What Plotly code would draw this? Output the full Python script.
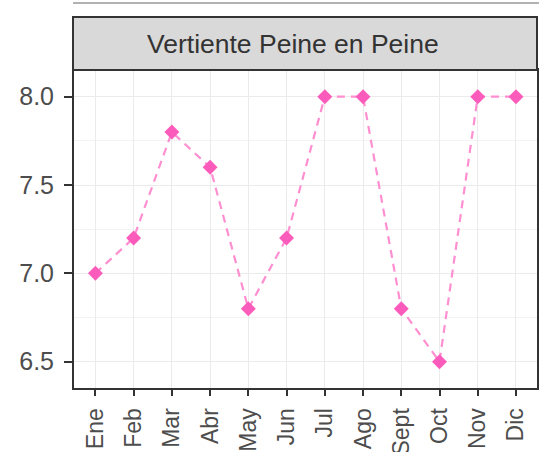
import plotly.graph_objects as go

months = ["Ene", "Feb", "Mar", "Abr", "May", "Jun", "Jul", "Ago", "Sept", "Oct", "Nov", "Dic"]
values = [7.0, 7.2, 7.8, 7.6, 6.8, 7.2, 8.0, 8.0, 6.8, 6.5, 8.0, 8.0]
y_ticks = [6.5, 7.0, 7.5, 8.0]
y_tick_labels = ["6.5", "7.0", "7.5", "8.0"]
facet_title = "Vertiente Peine en Peine"

W, H = 539, 452
L, R, T, B = 74, 2, 70, 64
ph = H - T - B
pw = W - L - R

def py(px):
    return (H - B - px) / ph

def pxr(px):
    return (px - L) / pw

FONT = "Liberation Sans, Arial, sans-serif"

fig = go.Figure()
fig.add_trace(go.Scatter(
    x=list(range(len(months))), y=values, mode="lines",
    line=dict(color="#ff8fd0", width=2.2, dash="8px,6px"),
    hoverinfo="skip", showlegend=False,
))
fig.add_trace(go.Scatter(
    x=list(range(len(months))), y=values, mode="markers",
    marker=dict(symbol="diamond", size=11.5, color="#fb5cbc", line=dict(width=0)),
    showlegend=False,
))

fig.update_layout(
    width=W, height=H,
    margin=dict(l=L, r=R, t=T, b=B, autoexpand=False),
    paper_bgcolor="white", plot_bgcolor="white",
    font=dict(family=FONT),
    xaxis=dict(
        range=[-0.56, 11.55], automargin=False,
        tickmode="array", tickvals=list(range(len(months))), ticktext=months,
        tickangle=-90, tickfont=dict(size=23, color="#4d4d4d"),
        ticks="outside", ticklen=6, tickwidth=1.5, tickcolor="#333333",
        ticklabelstandoff=3,
        showgrid=True, gridcolor="#ebebeb", gridwidth=1.2,
        showline=True, linecolor="#333333", linewidth=2, mirror=True,
        zeroline=False, fixedrange=True,
    ),
    yaxis=dict(
        range=[6.351, 8.151], automargin=False,
        tickmode="array", tickvals=y_ticks, ticktext=y_tick_labels,
        tickfont=dict(size=25, color="#4d4d4d"),
        ticks="outside", ticklen=8, tickwidth=1.5, tickcolor="#333333",
        ticklabelstandoff=5,
        showgrid=True, gridcolor="#ebebeb", gridwidth=1.2,
        minor=dict(dtick=0.25, tick0=6.25, showgrid=True, gridcolor="#f3f3f3", gridwidth=0.8, ticks=""),
        showline=True, linecolor="#333333", linewidth=2, mirror=True,
        zeroline=False, fixedrange=True,
    ),
    shapes=[
        dict(type="rect", xref="paper", yref="paper",
             x0=pxr(73), x1=1.0, y0=1.0, y1=py(17),
             fillcolor="#d9d9d9", line=dict(color="#333333", width=2), layer="above"),
        dict(type="line", xref="paper", yref="paper",
             x0=pxr(73), x1=1.01, y0=py(3), y1=py(3),
             line=dict(color="#999999", width=1.5)),
    ],
    annotations=[
        dict(text=facet_title, xref="paper", yref="paper", x=pxr(293), y=py(44),
             xanchor="center", yanchor="middle", showarrow=False,
             font=dict(size=26.5, color="#333333", family=FONT)),
    ],
)

fig.write_html(
    "out.html",
    config={"displayModeBar": False},
    post_script="document.body.style.margin='0px';document.body.style.overflow='hidden';",
)
